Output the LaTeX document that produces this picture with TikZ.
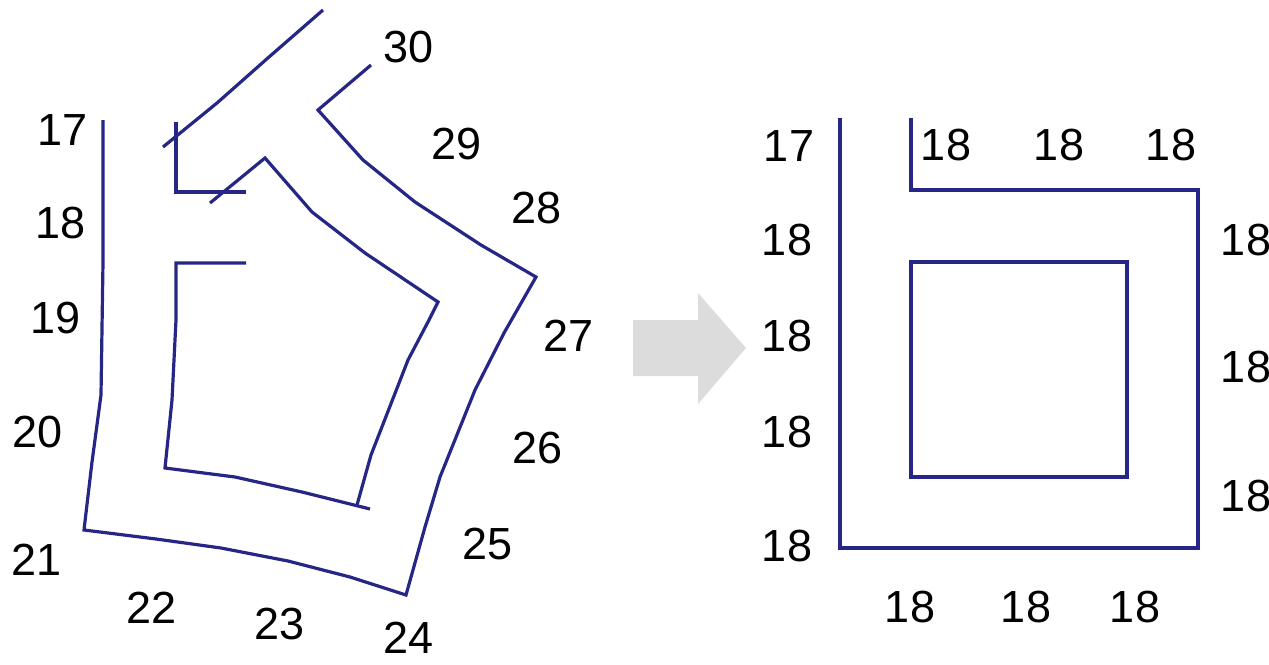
\documentclass[tikz,border=0pt]{standalone}
\usepackage{fontspec}
\setmainfont{Liberation Sans}
\definecolor{wallblue}{RGB}{38,38,135}
\definecolor{arrowgray}{RGB}{220,220,220}
\tikzset{
  wall/.style={draw=wallblue, line width=3.2pt, line join=miter},
  num/.style={font=\fontsize{45}{50}\selectfont, inner sep=0pt},
  bigArrow/.style={fill=arrowgray, draw=none}
}

\begin{document}
\begin{tikzpicture}[x=1pt,y=-1pt]
\useasboundingbox (0,0) rectangle (1269,664);

% Curved corridor (left)
\draw[wall] (103,120) -- (103,262) -- (101,395) -- (92,462) -- (84,530) -- (156,539) -- (221,548)
  -- (288,561) -- (350,577) -- (406,595) -- (425,527) -- (440,477) -- (475,390) -- (504,333)
  -- (536,277) -- (481,245) -- (415,202) -- (363,160) -- (318,110) -- (371,65);
\draw[wall] (323,10) -- (269,57) -- (217,103) -- (163,147);
\draw[wall] (176,122) -- (176,192) -- (246,192);
\draw[wall] (210,203) -- (265,158) -- (312,212) -- (365,253) -- (438,302) -- (429,320)
  -- (408,360) -- (371,455) -- (357,505);
\draw[wall] (246,263) -- (176,263) -- (176,320) -- (172,400) -- (165,468) -- (235,477)
  -- (302,492) -- (370,509);

% Left labels
\node[num] (l17) at (63,130) {17};
\node[num] (l18) at (61,223) {18};
\node[num] (l19) at (56,318) {19};
\node[num] (l20) at (38,432) {20};
\node[num] (l21) at (37,560) {21};
\node[num] (l22) at (152,608) {22};
\node[num] (l23) at (280,624) {23};
\node[num] (l24) at (409,638) {24};
\node[num] (l25) at (488,544) {25};
\node[num] (l26) at (538,448) {26};
\node[num] (l27) at (569,336) {27};
\node[num] (l28) at (537,208) {28};
\node[num] (l29) at (457,144) {29};
\node[num] (l30) at (409,47) {30};

% Block arrow
\fill[bigArrow] (633,320) -- (698,320) -- (698,293) -- (746,348) -- (698,404) -- (698,376)
  -- (633,376) -- cycle;

% Straightened corridor (right)
\draw[wall] (840,118) -- (840,548) -- (1198,548) -- (1198,190) -- (911,190) -- (911,118);
\draw[wall] (911,262) rectangle (1127,477);

% Right labels
\node[num] (r17) at (789,146) {17};
\node[num] (rl1) at (787,240) {18};
\node[num] (rl2) at (787,336) {18};
\node[num] (rl3) at (787,432) {18};
\node[num] (rl4) at (787,546) {18};
\node[num] (rt1) at (946,145) {18};
\node[num] (rt2) at (1059,145) {18};
\node[num] (rt3) at (1171,145) {18};
\node[num] (rr1) at (1246,240) {18};
\node[num] (rr2) at (1246,367) {18};
\node[num] (rr3) at (1246,496) {18};
\node[num] (rb1) at (910,607) {18};
\node[num] (rb2) at (1026,607) {18};
\node[num] (rb3) at (1135,607) {18};

\end{tikzpicture}
\end{document}
